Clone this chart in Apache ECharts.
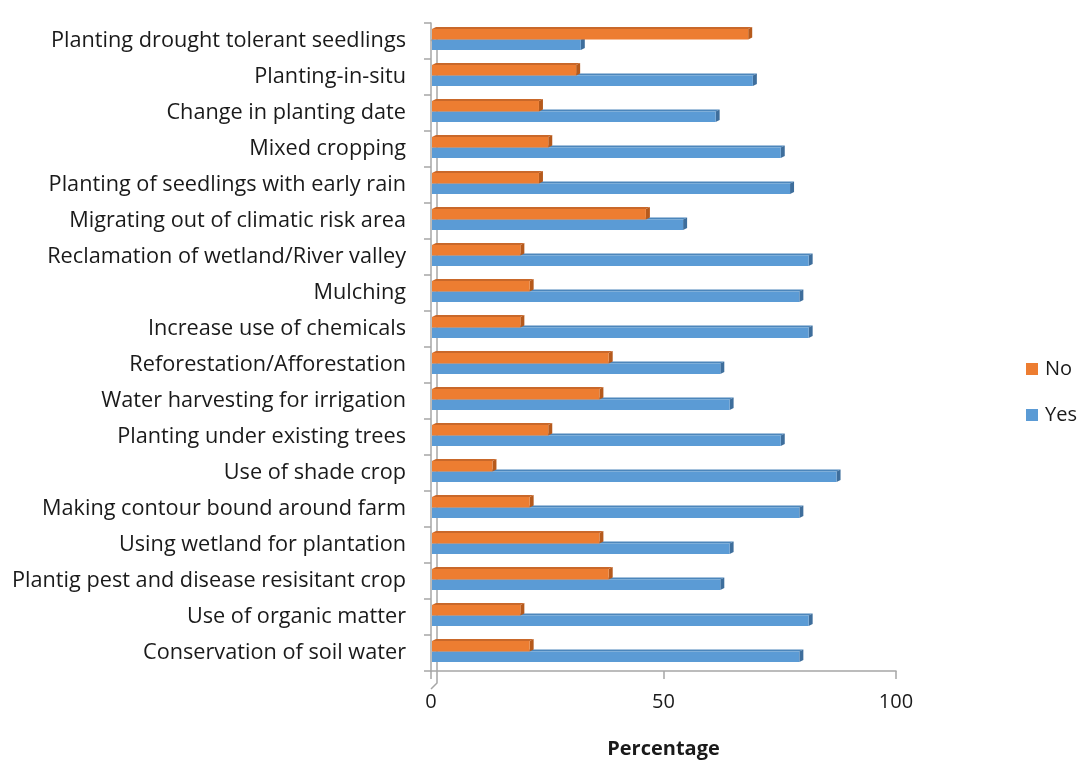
<!DOCTYPE html>
<html>
<head>
<meta charset="utf-8">
<script src="https://cdn.jsdelivr.net/npm/echarts@6/dist/echarts.min.js"></script>
<style>
  html, body { margin: 0; padding: 0; background: #ffffff; }
  #chart { width: 1081px; height: 760px; }
</style>
</head>
<body>
<div id="chart"></div>
<script>
// Adaptation strategies and the share of respondents answering No / Yes (%)
const categories = [
  'Planting drought tolerant seedlings',
  'Planting-in-situ',
  'Change in planting date',
  'Mixed cropping',
  'Planting of seedlings with early rain',
  'Migrating out of climatic risk area',
  'Reclamation of wetland/River valley',
  'Mulching',
  'Increase use of chemicals',
  'Reforestation/Afforestation',
  'Water harvesting for irrigation',
  'Planting under existing trees',
  'Use of shade crop',
  'Making contour bound around farm',
  'Using wetland for plantation',
  'Plantig pest and disease resisitant crop',
  'Use of organic matter',
  'Conservation of soil water'
];
const noValues  = [68, 31, 23, 25, 23, 46, 19, 21, 19, 38, 36, 25, 13, 21, 36, 38, 19, 21];
const yesValues = [32, 69, 61, 75, 77, 54, 81, 79, 81, 62, 64, 75, 87, 79, 64, 62, 81, 79];
const xTicks = [0, 50, 100];

const ORANGE = '#ED7D31', ORANGE_DARK = '#B65A1C', ORANGE_TOP = '#C9682A';
const BLUE = '#5B9BD5', BLUE_DARK = '#3E6E9C', BLUE_TOP = '#4C86BB';
const DEPTH_X = 4, DEPTH_Y = 2;

// Draws a bar with a shallow extruded look: front face, right side and top edge.
function make3dBar(offTop, offBottom, face, side, top) {
  return function (params, api) {
    const i = api.value(0);
    const v = api.value(1);
    const start = api.coord([0, i]);
    const end = api.coord([v, i]);
    const x0 = start[0] + 1;
    const x1 = end[0] + 1;
    const y0 = start[1] + offTop;
    const y1 = start[1] + offBottom;
    return {
      type: 'group',
      children: [
        { type: 'polygon', shape: { points: [[x0, y0], [x0 + DEPTH_X, y0 - DEPTH_Y], [x1 + DEPTH_X, y0 - DEPTH_Y], [x1, y0]] },
          style: { fill: top } },
        { type: 'polygon', shape: { points: [[x1, y0], [x1 + DEPTH_X, y0 - DEPTH_Y], [x1 + DEPTH_X, y1 - DEPTH_Y], [x1, y1]] },
          style: { fill: side } },
        { type: 'rect', shape: { x: x0, y: y0, width: x1 - x0, height: y1 - y0 },
          style: { fill: face } }
      ]
    };
  };
}

const chart = echarts.init(document.getElementById('chart'), null, { renderer: 'canvas' });
const FONT = '"Open Sans", "Liberation Sans", sans-serif';
const AXIS_GRAY = '#A6A6A6';

chart.setOption({
  animation: false,
  backgroundColor: '#ffffff',
  textStyle: { fontFamily: FONT },
  grid: { left: 431, right: 185, top: 23, bottom: 89, containLabel: false, outerBoundsMode: 'none' },
  legend: {
    data: ['No', 'Yes'],
    orient: 'vertical',
    left: 1021,
    top: 354,
    itemWidth: 12,
    itemHeight: 12,
    itemGap: 26,
    icon: 'rect',
    textStyle: { fontSize: 20, color: '#1a1a1a', fontFamily: FONT, padding: [0, 0, 0, 2] }
  },
  xAxis: {
    type: 'value',
    min: 0,
    max: 100,
    interval: 50,
    splitLine: { show: false },
    axisLine: { show: true, lineStyle: { color: AXIS_GRAY, width: 1.5 } },
    axisTick: { show: true, length: 8, lineStyle: { color: AXIS_GRAY, width: 1.5 } },
    axisLabel: {
      fontSize: 20, color: '#1a1a1a', margin: 21,
      formatter: function (val) { return xTicks.indexOf(val) >= 0 ? String(val) : ''; }
    },
    name: 'Percentage',
    nameLocation: 'middle',
    nameGap: 68,
    nameTextStyle: { fontSize: 20, fontWeight: 'bold', color: '#1a1a1a' }
  },
  yAxis: {
    type: 'category',
    data: categories,
    inverse: true,
    axisLine: { show: true, lineStyle: { color: AXIS_GRAY, width: 1.5 } },
    axisTick: { show: true, length: 7, alignWithLabel: false, lineStyle: { color: AXIS_GRAY, width: 1.5 } },
    axisLabel: { fontSize: 21.7, color: '#1a1a1a', margin: 25, interval: 0 }
  },
  series: [
    {
      name: 'Yes',
      type: 'custom',
      itemStyle: { color: BLUE },
      encode: { x: 1, y: 0 },
      data: yesValues.map(function (v, i) { return [i, v]; }),
      renderItem: make3dBar(-1.5, 9, BLUE, BLUE_DARK, BLUE_TOP),
      z: 2
    },
    {
      name: 'No',
      type: 'custom',
      itemStyle: { color: ORANGE },
      encode: { x: 1, y: 0 },
      data: noValues.map(function (v, i) { return [i, v]; }),
      renderItem: make3dBar(-12, -1.5, ORANGE, ORANGE_DARK, ORANGE_TOP),
      z: 3
    }
  ]
});

// Side wall of the plot: back edge line and the corner joins to the front axis.
(function drawWall() {
  const n = categories.length;
  const topLeft = chart.convertToPixel({ gridIndex: 0 }, [0, -0.5]);
  const bottomLeft = chart.convertToPixel({ gridIndex: 0 }, [0, n - 0.5]);
  const x = topLeft[0];
  const yTop = Math.min(topLeft[1], bottomLeft[1]);
  const yBot = Math.max(topLeft[1], bottomLeft[1]);
  chart.setOption({
    graphic: [{
      type: 'polyline',
      z: 1,
      shape: { points: [[x, yTop], [x + 6, yTop - 6], [x + 6, yBot - 6], [x, yBot]] },
      style: { stroke: AXIS_GRAY, lineWidth: 1.5, fill: null }
    }]
  });
})();
</script>
</body>
</html>
